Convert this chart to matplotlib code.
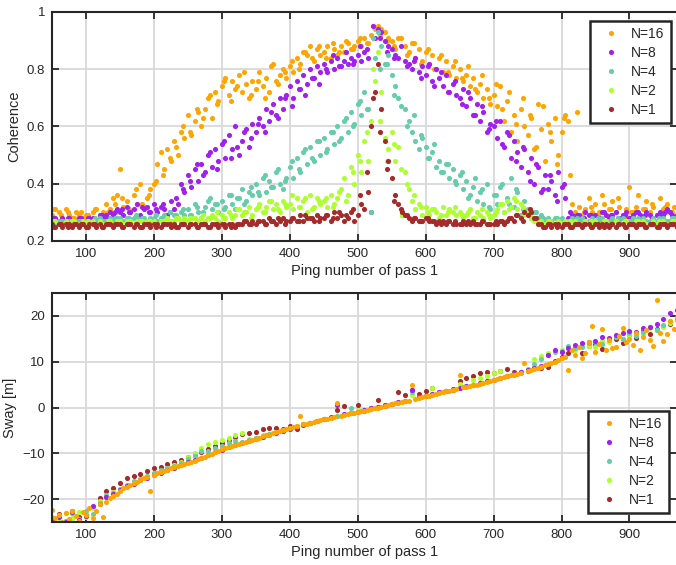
import numpy as np
import matplotlib
matplotlib.use('Agg')
import matplotlib.pyplot as plt
from matplotlib.ticker import FormatStrFormatter

plt.rcParams['font.family'] = ['Liberation Sans', 'DejaVu Sans']

labels = ['N=16', 'N=8', 'N=4', 'N=2', 'N=1']
colors = ['#ffa500', '#a020f0', '#66cdaa', '#adff2f', '#a52a2a']

# ping sampling of pass 1
ping5 = np.arange(50, 971, 5)
pingb = np.arange(53, 964, 10)
ping10 = np.arange(50, 971, 10)

# coherence in percent (two interleaved samplings)
coh16 = [29, 31, 30, 28, 31, 29, 28, 30, 29, 28,
         29, 28, 30, 31, 29, 30, 33, 31, 35, 36,
         45, 32, 34, 30, 36, 33, 40, 32, 35, 38,
         40, 47, 51, 45, 52, 48, 55, 50, 58, 56,
         64, 57, 62, 65, 60, 66, 70, 63, 72, 69,
         74, 77, 71, 76, 73, 78, 72, 75, 70, 76,
         73, 79, 74, 77, 72, 82, 76, 78, 80, 77,
         81, 79, 84, 82, 86, 85, 88, 83, 87, 85,
         86, 88, 84, 87, 85, 88, 86, 89, 87, 88,
         90, 88, 91, 89, 92, 94, 95, 94, 93, 91,
         90, 87, 91, 29, 88, 86, 89, 84, 87, 83,
         86, 82, 85, 80, 84, 79, 83, 78, 81, 77,
         80, 76, 78, 74, 77, 72, 75, 70, 73, 68,
         71, 67, 74, 62, 69, 58, 64, 55, 66, 60,
         57, 63, 52, 68, 59, 48, 61, 55, 63, 50,
         58, 64, 62, 33, 30, 32, 29, 31, 35, 30,
         33, 30, 36, 29, 31, 34, 30, 32, 29, 31,
         39, 30, 32, 29, 31, 34, 30, 32, 29, 35,
         31, 33, 30, 32, 29]
coh16b = [31, 29, 30, 28, 30, 29, 31, 28, 30, 33,
          35, 31, 38, 33, 36, 41, 43, 49, 53, 60,
          58, 66, 63, 71, 68, 76, 69, 74, 79, 71,
          76, 70, 81, 75, 79, 83, 80, 86, 84, 88,
          84, 89, 86, 90, 87, 91, 89, 95, 92, 90,
          88, 91, 85, 89, 82, 87, 80, 85, 79, 83,
          77, 81, 73, 78, 70, 75, 66, 72, 61, 70,
          64, 53, 67, 58, 47, 63, 43, 65, 30, 32,
          29, 33, 31, 35, 28, 30, 36, 31, 33, 29,
          32, 30]
coh8 = [27, 28, 27, 28, 27, 28, 27, 27, 28, 27,
        27, 28, 28, 27, 29, 28, 29, 30, 29, 31,
        30, 29, 32, 30, 31, 33, 29, 31, 32, 30,
        33, 30, 32, 31, 29, 34, 31, 33, 40, 37,
        43, 39, 45, 41, 47, 44, 50, 46, 52, 48,
        54, 49, 57, 52, 60, 50, 55, 59, 53, 61,
        58, 63, 60, 66, 62, 68, 64, 70, 66, 71,
        74, 70, 76, 73, 78, 75, 80, 77, 81, 79,
        82, 79, 83, 80, 84, 81, 83, 82, 84, 83,
        85, 83, 86, 84, 30, 91, 94, 93, 90, 88,
        87, 85, 84, 30, 83, 82, 80, 84, 79, 81,
        78, 82, 76, 80, 77, 74, 78, 72, 75, 71,
        70, 73, 67, 70, 64, 68, 62, 65, 58, 61,
        60, 56, 62, 53, 58, 49, 55, 51, 46, 52,
        44, 49, 40, 46, 37, 43, 38, 41, 36, 44,
        39, 35, 28, 29, 28, 29, 28, 30, 29, 28,
        29, 28, 30, 29, 28, 29, 30, 28, 29, 30,
        28, 29, 30, 29, 28, 30, 29, 28, 29, 30,
        29, 31, 30, 28, 29]
coh8b = [28, 27, 28, 27, 28, 28, 27, 29, 28, 30,
         31, 30, 28, 32, 30, 31, 33, 30, 35, 38,
         41, 47, 43, 51, 45, 55, 49, 53, 58, 56,
         61, 58, 65, 63, 70, 67, 73, 71, 77, 75,
         80, 85, 81, 86, 82, 88, 87, 95, 91, 86,
         84, 88, 81, 83, 77, 81, 74, 79, 72, 76,
         68, 72, 64, 67, 59, 62, 54, 57, 48, 53,
         41, 47, 38, 43, 34, 40, 30, 29, 28, 29,
         28, 30, 29, 28, 29, 28, 30, 29, 28, 29,
         30, 29]
coh4 = [27, 26, 27, 27, 26, 27, 26, 27, 27, 26,
        27, 26, 27, 27, 28, 27, 27, 28, 27, 28,
        28, 27, 28, 27, 28, 28, 27, 28, 27, 28,
        28, 27, 28, 29, 28, 27, 29, 28, 30, 29,
        31, 29, 33, 30, 28, 32, 34, 31, 33, 30,
        34, 32, 36, 33, 31, 35, 38, 34, 37, 36,
        40, 36, 42, 37, 41, 39, 44, 40, 38, 42,
        46, 42, 49, 44, 51, 47, 53, 48, 55, 50,
        56, 52, 58, 54, 60, 56, 62, 58, 65, 61,
        68, 64, 72, 66, 30, 84, 93, 88, 82, 85,
        78, 74, 70, 29, 66, 62, 58, 55, 52, 56,
        53, 49, 51, 46, 48, 44, 47, 42, 45, 40,
        43, 38, 41, 36, 39, 34, 37, 33, 40, 31,
        36, 33, 39, 30, 35, 42, 32, 37, 29, 34,
        31, 28, 30, 28, 29, 27, 28, 27, 28, 27,
        28, 27, 27, 28, 27, 27, 28, 27, 27, 28,
        27, 27, 28, 27, 27, 28, 27, 27, 28, 27,
        27, 28, 27, 27, 28, 27, 27, 28, 27, 27,
        28, 27, 27, 28, 27]
coh4b = [26, 27, 27, 26, 27, 27, 28, 27, 27, 28,
         27, 28, 29, 28, 27, 29, 28, 30, 29, 31,
         29, 32, 30, 35, 33, 31, 36, 35, 33, 39,
         37, 43, 39, 45, 41, 48, 45, 52, 49, 55,
         51, 58, 55, 63, 60, 69, 66, 91, 80, 82,
         71, 67, 60, 64, 57, 49, 54, 44, 47, 41,
         44, 35, 42, 38, 32, 36, 40, 33, 38, 31,
         29, 30, 28, 27, 28, 27, 27, 28, 27, 27,
         28, 27, 27, 28, 27, 27, 28, 27, 27, 28,
         27, 28]
coh2 = [26, 27, 26, 26, 27, 26, 27, 26, 26, 27,
        26, 26, 27, 26, 27, 26, 26, 27, 26, 27,
        27, 26, 27, 27, 26, 27, 27, 26, 27, 27,
        27, 26, 27, 27, 28, 27, 27, 28, 27, 28,
        27, 28, 28, 27, 28, 27, 28, 29, 28, 27,
        29, 28, 30, 28, 29, 31, 29, 30, 32, 29,
        31, 33, 30, 32, 34, 31, 33, 30, 34, 32,
        33, 31, 35, 32, 34, 30, 36, 32, 35, 33,
        34, 32, 36, 33, 35, 38, 42, 36, 46, 40,
        50, 44, 55, 48, 62, 76, 86, 72, 56, 52,
        58, 48, 53, 29, 44, 38, 34, 31, 33, 29,
        32, 29, 31, 30, 28, 32, 29, 31, 30, 29,
        30, 28, 29, 31, 28, 30, 29, 28, 30, 28,
        29, 31, 33, 30, 34, 32, 35, 31, 33, 29,
        30, 28, 27, 26, 27, 26, 27, 26, 26, 27,
        26, 27, 26, 26, 27, 26, 26, 27, 26, 26,
        27, 26, 26, 27, 26, 26, 27, 26, 26, 27,
        26, 26, 27, 26, 27, 26, 26, 27, 26, 26,
        27, 26, 26, 27, 26]
coh2b = [27, 26, 26, 27, 26, 27, 26, 26, 27, 26,
         26, 27, 26, 27, 27, 26, 27, 27, 28, 27,
         28, 27, 29, 28, 30, 28, 29, 31, 30, 28,
         32, 30, 34, 31, 33, 36, 32, 35, 31, 34,
         35, 32, 37, 34, 44, 48, 58, 80, 62, 48,
         54, 45, 40, 36, 32, 30, 31, 29, 30, 32,
         29, 30, 28, 31, 29, 30, 33, 31, 34, 32,
         29, 27, 26, 27, 26, 26, 27, 26, 26, 27,
         26, 27, 26, 26, 27, 26, 27, 26, 26, 27,
         26, 27]
coh1 = [26, 25, 26, 25, 26, 26, 25, 26, 25, 26,
        25, 26, 26, 25, 26, 25, 26, 26, 25, 26,
        26, 25, 26, 26, 25, 26, 25, 26, 26, 25,
        26, 26, 25, 26, 26, 25, 26, 25, 26, 26,
        25, 26, 26, 25, 26, 26, 25, 26, 26, 25,
        26, 25, 26, 26, 25, 26, 26, 27, 26, 27,
        26, 27, 27, 26, 28, 27, 26, 27, 28, 27,
        27, 28, 27, 29, 27, 28, 28, 27, 29, 28,
        28, 29, 27, 30, 28, 29, 27, 28, 30, 27,
        29, 33, 31, 37, 60, 72, 82, 66, 55, 48,
        42, 36, 33, 30, 29, 28, 27, 28, 27, 27,
        28, 27, 27, 26, 27, 27, 26, 27, 26, 26,
        26, 27, 26, 26, 27, 26, 26, 27, 26, 26,
        26, 26, 27, 26, 27, 28, 27, 29, 28, 30,
        29, 30, 28, 26, 26, 25, 26, 25, 26, 26,
        25, 26, 26, 25, 26, 26, 25, 26, 26, 25,
        26, 25, 26, 26, 25, 26, 25, 26, 26, 25,
        26, 26, 25, 26, 26, 25, 26, 26, 25, 26,
        26, 25, 26, 26, 25]
coh1b = [25, 26, 25, 26, 26, 25, 26, 25, 26, 26,
         25, 26, 26, 25, 26, 25, 26, 26, 25, 26,
         26, 25, 26, 25, 26, 26, 25, 26, 27, 26,
         27, 26, 27, 28, 26, 28, 27, 29, 28, 27,
         29, 28, 30, 29, 31, 36, 44, 70, 58, 45,
         34, 31, 29, 28, 27, 28, 27, 26, 27, 27,
         26, 27, 26, 27, 26, 27, 27, 28, 29, 27,
         31, 28, 25, 26, 25, 26, 25, 26, 26, 25,
         26, 25, 26, 26, 25, 26, 26, 25, 26, 25,
         26, 26]

# sway [m]; N=16 every 5 pings, the others every 10 pings
sway16 = [-22.4, -24.1, -23.5, -25.0, -23.0, -24.4, -22.6, -23.7, -24.8, -22.9,
          -23.5, -21.9, -24.2, -22.6, -21.1, -23.8, -20.6, -19.8, -19.4, -18.9,
          -18.2, -17.6, -17.3, -16.9, -16.5, -16.2, -15.9, -15.5, -15.2, -18.2,
          -14.7, -14.4, -14.1, -13.8, -13.6, -13.3, -13.0, -12.8, -12.5, -12.3,
          -12.1, -11.8, -11.6, -11.3, -11.0, -10.7, -10.4, -10.1, -9.8, -9.5,
          -9.1, -8.9, -8.7, -8.5, -8.2, -8.0, -7.7, -7.5, -7.3, -7.0,
          -6.8, -6.6, -6.3, -6.1, -5.9, -5.6, -5.4, -5.2, -5.0, -4.7,
          -4.5, -4.3, -4.1, -1.9, -3.7, -3.5, -3.4, -3.2, -3.0, -2.8,
          -2.6, -2.5, -2.3, -2.1, 0.9, -1.8, -1.6, -1.5, -1.3, -1.2,
          -1.0, -0.8, -0.7, -0.5, -0.3, -0.1, 0.0, 0.2, 0.4, 0.5,
          0.7, 0.9, 1.0, 1.2, 1.4, 1.5, 5.0, 1.9, 2.1, 2.3,
          2.5, 2.6, 2.8, 3.0, 3.2, 3.3, 3.5, 3.7, 3.8, 4.0,
          7.0, 4.4, 4.5, 4.7, 4.9, 5.0, 5.2, 5.4, 5.6, 5.8,
          6.0, 6.2, 6.4, 6.6, 6.8, 7.0, 7.2, 7.4, 7.6, 9.8,
          8.0, 8.2, 8.5, 8.7, 8.9, 9.2, 9.4, 9.7, 10.0, 10.4,
          10.8, 11.1, 8.2, 12.6, 11.5, 13.2, 10.9, 12.0, 14.4, 17.8,
          12.2, 13.9, 17.1, 12.5, 14.8, 12.9, 13.3, 15.6, 17.4, 14.2,
          15.0, 13.6, 16.3, 12.6, 15.5, 17.0, 14.8, 13.4, 23.4, 16.2,
          14.5, 16.1, 18.9, 17.2, 19.5]
sway8 = [-24.6, -23.9, -24.9, -22.9, -24.5, -23.7, -21.5, -21.0, -19.6, -18.9,
         -18.0, -17.2, -16.6, -15.9, -15.3, -14.8, -14.2, -13.6, -13.1, -12.6,
         -12.0, -11.5, -11.0, -10.4, -9.8, -9.2, -8.7, -8.2, -7.8, -7.3,
         -6.8, -6.4, -5.9, -5.5, -5.1, -4.6, -4.2, -3.8, -3.4, -3.0,
         -2.6, -2.0, 0.6, -1.5, -1.2, -0.9, -0.6, -0.2, 0.1, 0.5,
         0.8, 1.1, 1.5, 3.9, 2.2, 2.6, 2.9, 3.3, 3.6, 3.9,
         4.3, 4.6, 5.0, 5.3, 5.7, 6.1, 6.5, 6.9, 7.3, 7.7,
         8.1, 8.6, 9.0, 11.4, 12.6, 12.2, 13.1, 13.6, 14.0, 14.3,
         14.6, 15.3, 15.1, 15.9, 16.2, 16.8, 16.5, 17.3, 17.6, 18.2,
         19.4, 20.6, 21.2]
sway4 = [-24.2, -23.5, -24.7, -23.1, -24.4, -22.7, -23.3, -20.8, -19.2, -18.7,
         -17.7, -17.0, -16.1, -15.6, -14.9, -14.4, -13.7, -13.2, -12.7, -12.1,
         -11.3, -10.6, -9.6, -9.4, -8.9, -8.5, -7.8, -7.4, -7.6, -7.1,
         -6.7, -6.2, -5.8, -5.3, -4.9, -4.4, -4.0, -3.6, -3.3, -2.9,
         -2.5, -2.2, -1.8, -1.5, -0.2, -0.9, -0.6, -0.2, 0.1, 0.5,
         0.8, 1.1, 1.5, 3.4, 2.2, 2.6, 2.9, 3.3, 3.6, 3.9,
         4.3, 4.6, 5.0, 5.3, 5.7, 6.1, 6.5, 6.9, 7.3, 7.7,
         8.3, 9.5, 10.6, 11.4, 12.1, 12.3, 13.4, 12.9, 13.2, 14.1,
         14.4, 13.8, 15.0, 15.5, 14.9, 16.3, 15.7, 16.4, 17.5, 17.0,
         18.1, 18.8, 19.7]
sway2 = [-23.8, -24.9, -23.0, -24.2, -22.8, -23.9, -22.0, -20.4, -19.5, -18.5,
         -17.9, -17.0, -16.4, -15.8, -15.0, -14.4, -13.9, -13.3, -12.6, -11.8,
         -10.8, -10.0, -8.8, -8.0, -7.5, -7.2, -6.6, -6.0, -5.5, -6.8,
         -6.6, -6.1, -5.8, -5.3, -4.9, -4.4, -4.0, -3.6, -3.3, -2.9,
         -2.5, -2.2, -1.8, -1.5, -1.2, -0.5, -0.6, -0.2, 0.1, 0.5,
         0.8, 1.1, 1.5, 2.8, 2.3, 2.6, 4.3, 3.3, 3.6, 3.9,
         5.2, 4.6, 6.0, 6.4, 6.9, 7.6, 8.0, 6.9, 7.3, 7.7,
         8.1, 10.5, 11.2, 11.8, 12.4, 12.6, 12.9, 12.5, 13.6, 13.4,
         13.3, 14.6, 14.2, 15.4, 15.0, 15.8, 16.4, 16.1, 17.3, 16.9,
         17.6, 18.4, 19.2]
sway1 = [-24.5, -23.2, -24.8, -22.6, -24.0, -23.4, -21.8, -19.8, -18.2, -17.6,
         -16.4, -15.5, -15.0, -14.6, -13.8, -13.2, -12.9, -12.3, -11.8, -11.4,
         -10.8, -10.2, -9.7, -9.0, -8.4, -7.7, -7.2, -6.5, -5.8, -5.6,
         -5.3, -4.8, -4.4, -4.4, -4.6, -4.1, -4.7, -3.5, -3.4, -2.9,
         -2.6, -2.2, -0.5, 0.3, -1.3, 0.5, -0.7, -0.2, 1.6, 0.4,
         0.8, 3.3, 2.8, 3.8, 2.9, 3.6, 4.2, 3.3, 3.5, 4.1,
         5.8, 6.4, 6.9, 7.5, 7.8, 7.6, 8.0, 8.3, 7.8, 7.7,
         8.0, 8.6, 8.7, 8.9, 10.2, 11.0, 11.8, 12.9, 12.0, 13.5,
         13.8, 12.7, 14.6, 14.9, 14.0, 15.8, 15.2, 16.6, 16.0, 17.2,
         17.8, 18.3, 19.0]

coh = [(coh16, coh16b), (coh8, coh8b), (coh4, coh4b), (coh2, coh2b), (coh1, coh1b)]
sway_x = [ping5, ping10, ping10, ping10, ping10]
sway = [sway16, sway8, sway4, sway2, sway1]

fig = plt.figure(figsize=(6.76, 5.65), dpi=100)
ax1 = fig.add_axes([0.0769, 0.5735, 0.9246, 0.4053])
ax2 = fig.add_axes([0.0769, 0.0761, 0.9246, 0.4053])

ms = 3.7
h1 = []
for c, lab, (ya, yb) in zip(colors, labels, coh):
    x = np.concatenate([ping5, pingb])
    y = np.concatenate([ya, yb]) / 100
    l, = ax1.plot(x, y, 'o', ms=ms, mew=0, color=c, label=lab)
    h1.append(l)

h2 = []
for c, lab, x, y in zip(colors[::-1], labels[::-1], sway_x[::-1], sway[::-1]):
    l, = ax2.plot(x, y, 'o', ms=ms, mew=0, color=c, label=lab)
    h2.append(l)
h2 = h2[::-1]

for ax in (ax1, ax2):
    ax.set_xlim(50, 970)
    ax.set_xticks(range(100, 901, 100))
    ax.grid(True, color='#d9d9d9', lw=1.3)
    ax.set_axisbelow(True)
    ax.tick_params(direction='in', top=True, right=True, length=5, width=1.3,
                   labelsize=9.5, colors='#262626', pad=5)
    for s in ax.spines.values():
        s.set_linewidth(1.5)
        s.set_color('#262626')
    ax.set_xlabel('Ping number of pass 1', fontsize=10.5, color='#262626', labelpad=3)

ax1.set_ylim(0.2, 1)
ax1.set_yticks([0.2, 0.4, 0.6, 0.8, 1])
ax1.yaxis.set_major_formatter(FormatStrFormatter('%g'))
ax1.set_ylabel('Coherence', fontsize=10.5, color='#262626')

ax2.set_ylim(-25, 25)
ax2.set_yticks([-20, -10, 0, 10, 20])
ax2.set_ylabel('Sway [m]', fontsize=10.5, color='#262626')

leg_kw = dict(fancybox=False, framealpha=1, edgecolor='#262626', fontsize=10,
              borderaxespad=0, borderpad=0.45, handlelength=2.1,
              handletextpad=0.4, labelspacing=0.35, numpoints=1,
              bbox_transform=fig.transFigure)
lg1 = ax1.legend(h1, labels, loc='upper right',
                 bbox_to_anchor=(671 / 676, 1 - 21 / 565), **leg_kw)
lg2 = ax2.legend(h2, labels, loc='lower right',
                 bbox_to_anchor=(669 / 676, 1 - 513 / 565), **leg_kw)
for lg in (lg1, lg2):
    lg.get_frame().set_linewidth(1.8)
    for t in lg.get_texts():
        t.set_color('#262626')

fig.savefig('out.png', dpi=100)
